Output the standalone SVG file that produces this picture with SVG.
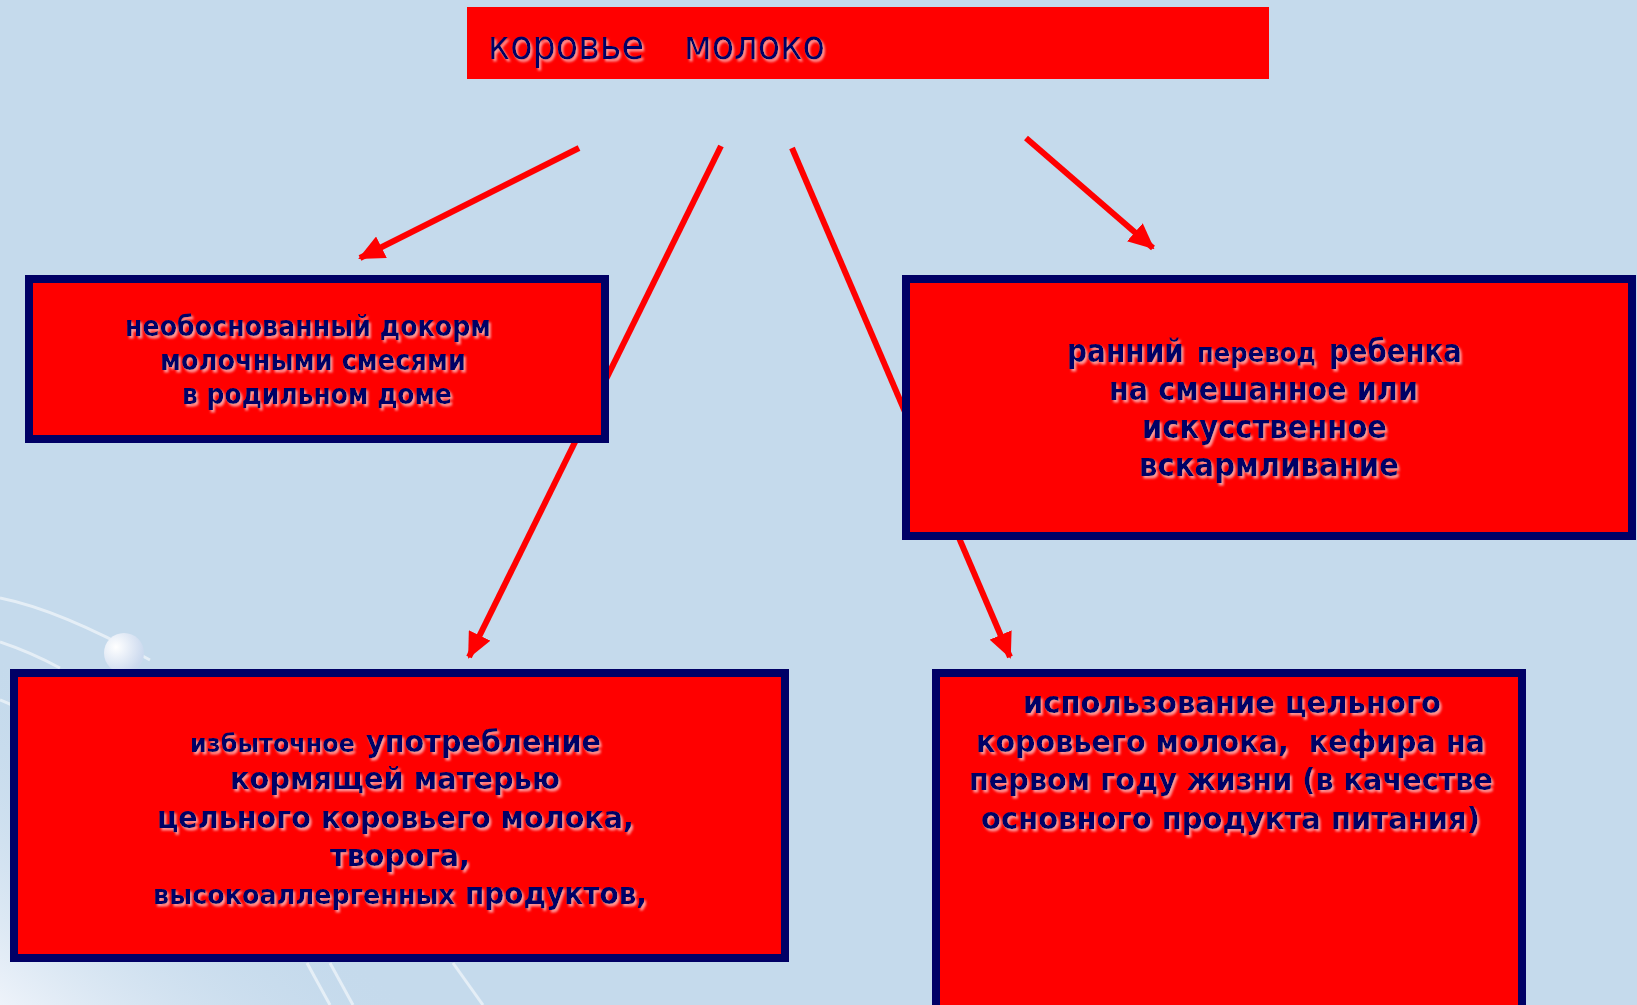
<svg xmlns="http://www.w3.org/2000/svg" width="1637" height="1005" viewBox="0 0 1637 1005">
<style>
.box{fill:#FF0000;stroke:#000066;stroke-width:8}
.t{font-family:"DejaVu Sans Condensed","DejaVu Sans",sans-serif;font-weight:bold;fill:#000066;filter:url(#sh)}
.c{stroke:#FF0000;stroke-width:6;fill:none;marker-end:url(#ah)}
.deco{stroke:#FFFFFF;stroke-opacity:0.55;fill:none;stroke-width:3}
</style>
<defs>
<filter id="sh" x="-5%" y="-20%" width="110%" height="150%">
<feDropShadow dx="2" dy="2.5" stdDeviation="1.2" flood-color="#ffffff" flood-opacity="0.6"/>
</filter>
<marker id="ah" viewBox="0 0 26 24" refX="24" refY="12" markerWidth="26" markerHeight="24" markerUnits="userSpaceOnUse" orient="auto">
<path d="M0,0 L26,12 L0,24 z" fill="#FF0000"/>
</marker>
<linearGradient id="bl" x1="0" y1="1" x2="0.4" y2="0.6">
<stop offset="0" stop-color="#EEF3FA"/>
<stop offset="1" stop-color="#C5DAEC" stop-opacity="0"/>
</linearGradient>
<radialGradient id="sp" cx="0.3" cy="0.35" r="0.7">
<stop offset="0" stop-color="#FFFFFF"/>
<stop offset="1" stop-color="#CBD9EE"/>
</radialGradient>
</defs>
<rect width="1637" height="1005" fill="#C5DAEC"/>
<rect x="0" y="560" width="520" height="445" fill="url(#bl)"/>
<g id="decoration">
<path class="deco" d="M0,598 Q60,610 150,660"/>
<path class="deco" d="M0,642 Q30,652 60,668"/>
<path class="deco" d="M0,700 Q15,706 25,712"/>
<path class="deco" d="M307,963 L330,1005"/>
<path class="deco" d="M330,963 L353,1005"/>
<path class="deco" d="M453,963 L483,1005"/>
<circle cx="124" cy="653" r="20" fill="url(#sp)"/>
</g>
<g id="connectors">
<line class="c" x1="579" y1="148" x2="360" y2="258"/>
<line class="c" x1="721" y1="146" x2="469" y2="657"/>
<line class="c" x1="792" y1="148" x2="1010" y2="657"/>
<line class="c" x1="1026" y1="138" x2="1153" y2="248"/>
</g>
<g id="title">
<rect x="467" y="7" width="802" height="72" fill="#FF0000"/>
<text x="488" y="59" font-family="DejaVu Sans Condensed, DejaVu Sans, sans-serif" font-size="40" fill="#000066" filter="url(#sh)" textLength="156" lengthAdjust="spacingAndGlyphs">коровье</text>
<text x="684" y="59" font-family="DejaVu Sans Condensed, DejaVu Sans, sans-serif" font-size="40" fill="#000066" filter="url(#sh)" textLength="141" lengthAdjust="spacingAndGlyphs">молоко</text>
</g>
<g id="node-1">
<rect class="box" x="29" y="279" width="576" height="160"/>
<text class="t" font-size="29" x="125" y="336" textLength="366" lengthAdjust="spacingAndGlyphs">необоснованный докорм</text>
<text class="t" font-size="29" x="160" y="370" textLength="306" lengthAdjust="spacingAndGlyphs">молочными смесями</text>
<text class="t" font-size="29" x="182" y="404" textLength="270" lengthAdjust="spacingAndGlyphs">в родильном доме</text>
</g>
<g id="node-2">
<rect class="box" x="906" y="279" width="726" height="257"/>
<text class="t" font-size="32" x="1067" y="362" textLength="117" lengthAdjust="spacingAndGlyphs">ранний</text>
<text class="t" font-size="26" x="1197" y="362" textLength="119" lengthAdjust="spacingAndGlyphs">перевод</text>
<text class="t" font-size="32" x="1329" y="362" textLength="133" lengthAdjust="spacingAndGlyphs">ребенка</text>
<text class="t" font-size="32" x="1109" y="400" textLength="309" lengthAdjust="spacingAndGlyphs">на смешанное или</text>
<text class="t" font-size="32" x="1142" y="438" textLength="245" lengthAdjust="spacingAndGlyphs">искусственное</text>
<text class="t" font-size="32" x="1139" y="476" textLength="260" lengthAdjust="spacingAndGlyphs">вскармливание</text>
</g>
<g id="node-3">
<rect class="box" x="14" y="673" width="771" height="285"/>
<text class="t" font-size="25" x="190" y="752" textLength="165" lengthAdjust="spacingAndGlyphs">избыточное</text>
<text class="t" font-size="31" x="366" y="752" textLength="235" lengthAdjust="spacingAndGlyphs">употребление</text>
<text class="t" font-size="31" x="230" y="789" textLength="330" lengthAdjust="spacingAndGlyphs">кормящей матерью</text>
<text class="t" font-size="31" x="157" y="828" textLength="477" lengthAdjust="spacingAndGlyphs">цельного коровьего молока,</text>
<text class="t" font-size="31" x="330" y="866" textLength="140" lengthAdjust="spacingAndGlyphs">творога,</text>
<text class="t" font-size="27" x="153" y="904" textLength="302" lengthAdjust="spacingAndGlyphs">высокоаллергенных</text>
<text class="t" font-size="31" x="465" y="904" textLength="182" lengthAdjust="spacingAndGlyphs">продуктов,</text>
</g>
<g id="node-4">
<rect class="box" x="936" y="673" width="586" height="340"/>
<text class="t" font-size="31" x="1023" y="713" textLength="418" lengthAdjust="spacingAndGlyphs">использование цельного</text>
<text class="t" font-size="31" x="976" y="752" textLength="509" lengthAdjust="spacingAndGlyphs" xml:space="preserve">коровьего молока,  кефира на</text>
<text class="t" font-size="31" x="969" y="790" textLength="524" lengthAdjust="spacingAndGlyphs">первом году жизни (в качестве</text>
<text class="t" font-size="31" x="981" y="829" textLength="499" lengthAdjust="spacingAndGlyphs">основного продукта питания)</text>
</g>
</svg>
